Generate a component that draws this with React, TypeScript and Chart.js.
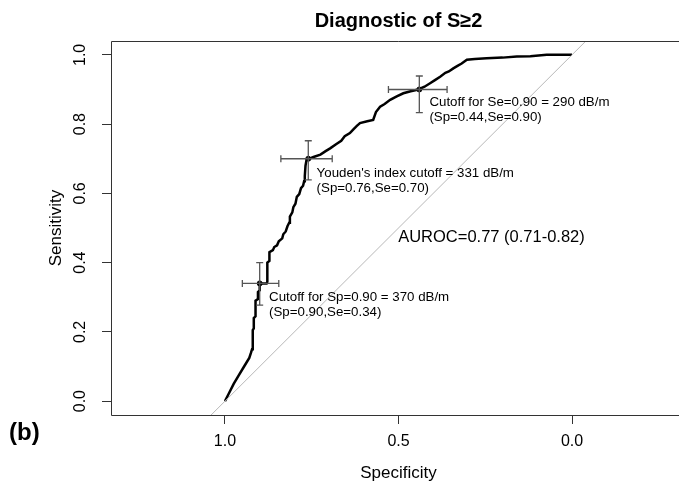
import React, { useEffect, useRef } from "react";
import { Chart, registerables } from "chart.js";

Chart.register(...registerables);

const FONT = "'Liberation Sans', Arial, Helvetica, sans-serif";

// ROC curve (specificity, sensitivity)
const rocSpecificity = [
  1.0, 0.99, 0.975, 0.96, 0.945, 0.93, 0.925, 0.922, 0.92, 0.917, 0.917, 0.912, 0.912, 0.905, 0.905,
  0.9, 0.9, 0.88, 0.878, 0.878, 0.872, 0.872, 0.862, 0.858, 0.85, 0.845, 0.835, 0.832, 0.825, 0.82,
  0.815, 0.813, 0.806, 0.803, 0.797, 0.793, 0.786, 0.781, 0.775, 0.772, 0.77, 0.768, 0.765, 0.745,
  0.725, 0.71, 0.697, 0.68, 0.665, 0.655, 0.64, 0.63, 0.62, 0.611, 0.59, 0.573, 0.565, 0.553, 0.54,
  0.524, 0.505, 0.486, 0.465, 0.443, 0.425, 0.409, 0.395, 0.38, 0.365, 0.355, 0.342, 0.33, 0.318,
  0.303, 0.28, 0.246, 0.2, 0.159, 0.12, 0.073, 0.0,
];
const rocSensitivity = [
  0.0, 0.02, 0.05, 0.075, 0.1, 0.125, 0.14, 0.15, 0.205, 0.21, 0.24, 0.245, 0.29, 0.295, 0.315,
  0.32, 0.34, 0.34, 0.345, 0.4, 0.405, 0.43, 0.436, 0.445, 0.45, 0.462, 0.47, 0.482, 0.49, 0.505,
  0.515, 0.533, 0.545, 0.56, 0.57, 0.59, 0.598, 0.615, 0.622, 0.635, 0.65, 0.68, 0.697, 0.705,
  0.712, 0.722, 0.73, 0.742, 0.752, 0.765, 0.774, 0.785, 0.795, 0.803, 0.808, 0.812, 0.835, 0.85,
  0.858, 0.87, 0.88, 0.889, 0.895, 0.9, 0.908, 0.918, 0.927, 0.937, 0.948, 0.952, 0.961, 0.968,
  0.975, 0.986, 0.988, 0.99, 0.992, 0.995, 0.996, 1.0, 1.0,
];

// chance diagonal
const diagSpecificity = [1.5, -0.5];
const diagSensitivity = [-0.5, 1.5];

// cutoffs and their confidence intervals
const cutSp = [0.9, 0.76, 0.44];
const cutSe = [0.34, 0.7, 0.9];
const cutSpLow = [0.845, 0.691, 0.36];
const cutSpHigh = [0.95, 0.839, 0.529];
const cutSeLow = [0.277, 0.639, 0.833];
const cutSeHigh = [0.4, 0.752, 0.939];

// annotation texts (two lines each) and anchor positions (data units)
const cutLine1 = [
  "Cutoff for Sp=0.90 = 370 dB/m",
  "Youden's index cutoff = 331 dB/m",
  "Cutoff for Se=0.90 = 290 dB/m",
];
const cutLine2 = ["(Sp=0.90,Se=0.34)", "(Sp=0.76,Se=0.70)", "(Sp=0.44,Se=0.90)"];
const cutTextSp = [0.873, 0.736, 0.411];
const cutTextSe = [0.29, 0.6466, 0.853];

const aurocText = "AUROC=0.77 (0.71-0.82)";
const aurocSp = 0.501;
const aurocSe = 0.46;

const xTicks = [1.0, 0.5, 0.0];
const yTicks = [0.0, 0.2, 0.4, 0.6, 0.8, 1.0];

const titleText = "Diagnostic of S≥2";
const xTitle = "Specificity";
const yTitle = "Sensitivity";
const panelLabel = "(b)";

export default function App() {
  const ref = useRef<HTMLCanvasElement | null>(null);

  useEffect(() => {
    if (!ref.current) return;

    const overlay = {
      id: "overlay",
      afterDatasetsDraw(chart: any) {
        const { ctx, chartArea } = chart;
        const xs = chart.scales.x;
        const ys = chart.scales.y;
        ctx.save();
        // box (left, top, bottom; right side lies beyond the visible area)
        ctx.strokeStyle = "#333";
        ctx.lineWidth = 1;
        const l = Math.round(chartArea.left) + 0.5;
        const t = Math.round(chartArea.top) + 0.5;
        const b = Math.round(chartArea.bottom) + 0.5;
        const r = chartArea.right;
        ctx.beginPath();
        ctx.moveTo(r, t);
        ctx.lineTo(l, t);
        ctx.lineTo(l, b);
        ctx.lineTo(r, b);
        ctx.stroke();

        // confidence interval crosses
        ctx.strokeStyle = "#555";
        ctx.lineWidth = 1.3;
        const cap = 3.5;
        for (let i = 0; i < cutSp.length; i++) {
          const px = xs.getPixelForValue(cutSp[i]);
          const py = ys.getPixelForValue(cutSe[i]);
          const x1 = xs.getPixelForValue(cutSpHigh[i]);
          const x2 = xs.getPixelForValue(cutSpLow[i]);
          const y1 = ys.getPixelForValue(cutSeHigh[i]);
          const y2 = ys.getPixelForValue(cutSeLow[i]);
          ctx.beginPath();
          ctx.moveTo(x1, py); ctx.lineTo(x2, py);
          ctx.moveTo(x1, py - cap); ctx.lineTo(x1, py + cap);
          ctx.moveTo(x2, py - cap); ctx.lineTo(x2, py + cap);
          ctx.moveTo(px, y1); ctx.lineTo(px, y2);
          ctx.moveTo(px - cap, y1); ctx.lineTo(px + cap, y1);
          ctx.moveTo(px - cap, y2); ctx.lineTo(px + cap, y2);
          ctx.stroke();
        }

        // annotation texts
        ctx.fillStyle = "#000";
        ctx.textAlign = "left";
        ctx.textBaseline = "alphabetic";
        ctx.font = `13.3px ${FONT}`;
        for (let i = 0; i < cutLine1.length; i++) {
          const tx = xs.getPixelForValue(cutTextSp[i]);
          const ty = ys.getPixelForValue(cutTextSe[i]);
          ctx.fillText(cutLine1[i], tx, ty);
          ctx.fillText(cutLine2[i], tx, ty + 15);
        }
        ctx.font = `16.5px ${FONT}`;
        ctx.fillText(aurocText, xs.getPixelForValue(aurocSp), ys.getPixelForValue(aurocSe));

        // rotated y tick labels (as in R)
        ctx.font = `16px ${FONT}`;
        ctx.textAlign = "center";
        ctx.textBaseline = "middle";
        for (const tk of ys.ticks) {
          const py = ys.getPixelForValue(tk.value);
          ctx.save();
          ctx.translate(81, py);
          ctx.rotate(-Math.PI / 2);
          ctx.fillText(Number(tk.value).toFixed(1), 0, 0);
          ctx.restore();
        }

        // panel label
        ctx.font = `bold 24px ${FONT}`;
        ctx.textAlign = "left";
        ctx.textBaseline = "middle";
        ctx.fillText(panelLabel, 9, 433);
        ctx.restore();
      },
    };

    const chart = new Chart(ref.current, {
      type: "line",
      data: {
        datasets: [
          {
            data: diagSpecificity.map((x, i) => ({ x, y: diagSensitivity[i] })),
            borderColor: "#b8b8b8",
            borderWidth: 1,
            pointRadius: 0,
            tension: 0,
          },
          {
            data: rocSpecificity.map((x, i) => ({ x, y: rocSensitivity[i] })),
            borderColor: "#000",
            borderWidth: 2.5,
            pointRadius: 0,
            tension: 0,
          },
          {
            type: "scatter",
            data: cutSp.map((x, i) => ({ x, y: cutSe[i] })),
            backgroundColor: "#000",
            borderColor: "#000",
            pointRadius: 2.5,
            showLine: false,
          },
        ] as any,
      },
      options: {
        animation: false,
        responsive: false,
        maintainAspectRatio: false,
        layout: { padding: { left: 0, right: 34, top: 0, bottom: 0 } },
        plugins: {
          legend: { display: false },
          tooltip: { enabled: false },
          title: {
            display: true,
            text: titleText,
            fullSize: false,
            color: "#000",
            font: { family: FONT, size: 20, weight: "bold", lineHeight: 1 },
            padding: { top: 11, bottom: 10 },
          },
        },
        scales: {
          x: {
            type: "linear",
            reverse: true,
            min: -0.3285,
            max: 1.3285,
            afterBuildTicks: (s: any) => {
              s.ticks = xTicks.map((v) => ({ value: v }));
            },
            afterFit: (s: any) => {
              s.height = 72;
            },
            border: { display: false },
            grid: { drawOnChartArea: false, tickLength: 9, color: "#333", lineWidth: 1 },
            ticks: {
              color: "#000",
              font: { family: FONT, size: 16 },
              padding: 8,
              maxRotation: 0,
              autoSkip: false,
              callback: (v: any) => Number(v).toFixed(1),
            },
            title: {
              display: true,
              text: xTitle,
              color: "#000",
              font: { family: FONT, size: 17, lineHeight: 1.2 },
              padding: { top: 0, bottom: 3 },
            },
          },
          y: {
            type: "linear",
            min: -0.04,
            max: 1.04,
            afterBuildTicks: (s: any) => {
              s.ticks = yTicks.map((v) => ({ value: v }));
            },
            afterFit: (s: any) => {
              s.width = 111;
            },
            border: { display: false },
            grid: { drawOnChartArea: false, tickLength: 9, color: "#333", lineWidth: 1 },
            ticks: { display: false },
            title: {
              display: true,
              text: yTitle,
              color: "#000",
              font: { family: FONT, size: 17, lineHeight: 1.2 },
              padding: { top: 46, bottom: 0 },
            },
          },
        },
      },
      plugins: [overlay],
    } as any);

    return () => chart.destroy();
  }, []);

  return (
    <div
      style={{
        position: "fixed",
        left: 0,
        top: 0,
        width: 679,
        height: 487,
        overflow: "hidden",
        background: "#fff",
      }}
    >
      <canvas ref={ref} width={720} height={487} style={{ display: "block" }} />
    </div>
  );
}
